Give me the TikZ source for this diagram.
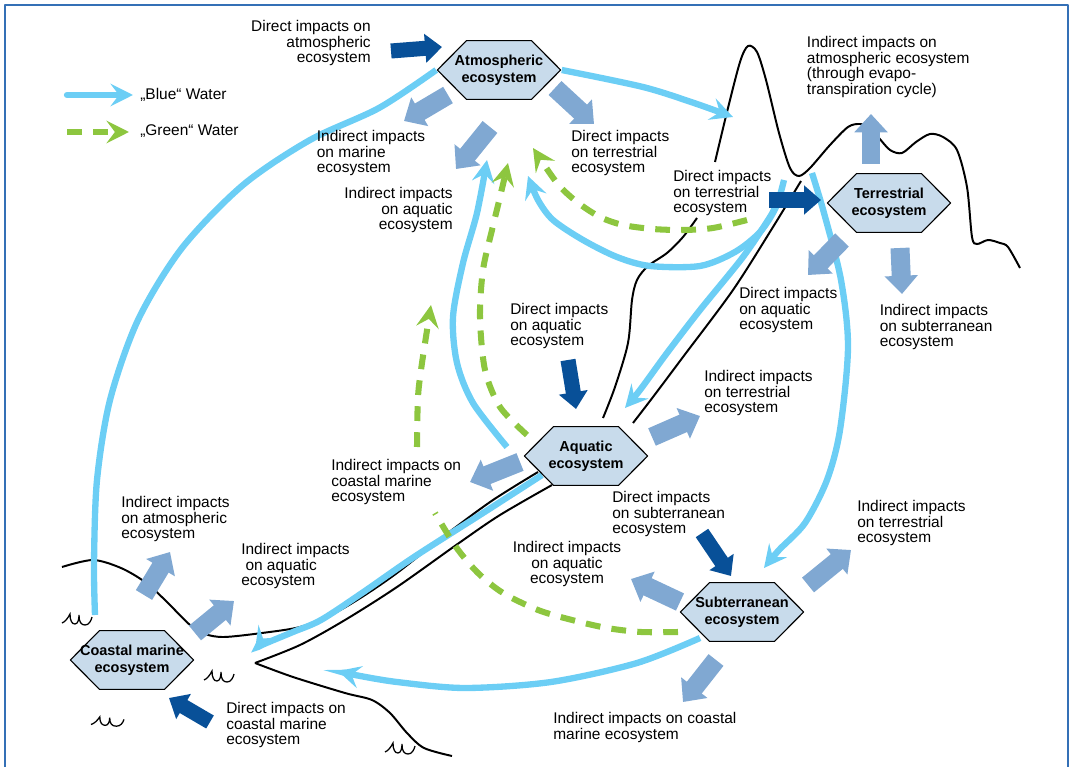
\documentclass[tikz,border=0pt]{standalone}
\usepackage{fontspec}
\setmainfont{Liberation Sans}
\usetikzlibrary{arrows.meta}
\pgfdeclarelayer{bg}
\pgfsetlayers{bg,main}

\definecolor{bluewater}{RGB}{108,206,245}
\definecolor{greenwater}{RGB}{141,198,63}
\definecolor{directblue}{RGB}{8,80,152}
\definecolor{indirectblue}{RGB}{128,168,210}
\definecolor{ecofill}{RGB}{200,219,235}
\definecolor{framecol}{RGB}{52,112,182}

\tikzset{
  pics/ripple/.style={code={
    \draw[line width=0.9pt] (0,10) .. controls (3,9) and (6,5) .. (8,1)
      .. controls (8,8) and (10,11) .. (13,11) .. controls (16,11) and (17,6) .. (17,2)
      .. controls (17,9) and (19,12) .. (23,12) .. controls (27,12) and (29,8) .. (30,4);}}
}

\begin{document}
\begin{tikzpicture}[x=0.025cm, y=-0.025cm, line join=round, line cap=round,
    eco/.style={rectangle, minimum width=3.125cm, minimum height=1.5cm, inner sep=0pt, align=center,
      font=\bfseries\fontsize{10.3}{11.9}\selectfont,
      path picture={\draw[fill=ecofill, line width=0.8pt]
        ([xshift=0.6pt]path picture bounding box.west)
        -- ([xshift=0.75cm, yshift=-0.45pt]path picture bounding box.north west)
        -- ([xshift=-0.75cm, yshift=-0.45pt]path picture bounding box.north east)
        -- ([xshift=-0.6pt]path picture bounding box.east)
        -- ([xshift=-0.75cm, yshift=0.45pt]path picture bounding box.south east)
        -- ([xshift=0.75cm, yshift=0.45pt]path picture bounding box.south west) -- cycle;}},
    lbl/.style={inner sep=0pt, align=left, font=\fontsize{11}{11}\selectfont},
    land/.style={line width=1.4pt},
    bluewaterline/.style={draw=bluewater, line width=4.5pt, -{Stealth[length=16pt, width=16pt, inset=6pt]}},
    greenwaterline/.style={draw=greenwater, line width=4.3pt, line cap=butt, dash pattern=on 10.5pt off 8pt,
      -{Stealth[length=16pt, width=16pt, inset=6pt]}},
    direct/.style={draw=directblue, line width=10.7pt, line cap=butt, -{Triangle[length=12pt, width=20pt]}},
    indirect/.style={draw=indirectblue, line width=13.5pt, line cap=butt, -{Triangle[length=13pt, width=23pt]}}]
  \useasboundingbox (0,0) rectangle (1074,767);
  % Rahmen
  \draw[framecol, line width=1.5pt, line cap=butt] (5,767) -- (5,5) -- (1068,5) -- (1068,767);

  % Oekosysteme
  \node[eco] (atmo) at (499,70) {Atmospheric\\ecosystem};
  \node[eco] (terr) at (889,203) {Terrestrial\\ecosystem};
  \node[eco] (aqua) at (586,456) {Aquatic\\ecosystem};
  \node[eco] (subter) at (742,612) {Subterranean\\ecosystem};
  \node[eco] (coast) at (132,660) {Coastal marine\\ecosystem};

  \coordinate (sea) at (95,615);
  \coordinate (cloud) at (733,117);
  \coordinate (slope) at (784,180);
  \coordinate (slopelow) at (776,205);
  \coordinate (upland) at (812,173);
  \coordinate (vapour) at (528,176);
  \coordinate (lake) at (507,447);
  \coordinate (lakeair) at (487,160);
  \coordinate (outflow) at (542,475);
  \coordinate (mouth) at (255,650);
  \coordinate (spring) at (700,638);
  \coordinate (bay) at (338,671);
  \coordinate (wet) at (747,220);
  \coordinate (wetair) at (533,148);
  \coordinate (marsh) at (527,435);
  \coordinate (marshair) at (508,163);
  \coordinate (shore) at (417,447);
  \coordinate (shoreair) at (431,305);
  \coordinate (soil) at (678,632);
  \coordinate (seep) at (435,513);

  \begin{pgfonlayer}{bg}
    % Landschaft
    \draw[land] plot[smooth] coordinates {(603,418) (615,387) (628,343) (632,300) (637,280) (648,266) (667,253) (683,237) (697,218)};
    \draw[land] plot[smooth] coordinates {(715,162) (727,112) (740,62) (748,46) (757,52) (766,80) (779,133) (790,168) (799,176) (810,168) (830,145) (848,127) (860,124) (870,128) (879,138) (890,150) (902,153) (916,142) (930,134) (943,137) (957,150) (967,187) (972,237) (977,244) (988,240) (1000,243) (1008,247) (1020,268)};
    \draw[land] plot[smooth] coordinates {(801,181) (773,227) (733,290) (683,357) (653,397) (633,423)};
    \draw[land] plot[smooth] coordinates {(62,567) (93,560) (121,568) (145,582) (165,600) (190,625) (205,634) (224,637) (262,633) (300,627) (331,615) (362,597) (397,573) (448,533) (493,500) (538,472)};
    \draw[land] plot[smooth] coordinates {(552,485) (500,515) (459,543) (397,587) (345,620) (300,645) (255,663)};
    \draw[land] plot[smooth] coordinates {(255,663) (293,677) (345,693) (372,700) (390,713) (407,733) (424,748) (452,756)};
    \pic at (62,613) {ripple};
    \pic at (204,670) {ripple};
    \pic[xscale=1.1, yscale=0.85] at (91,716) {ripple};
    \pic at (385,742) {ripple};

    % Blaues Wasser
    \draw[bluewaterline, -] plot[smooth] coordinates {(sea) (94,563) (97,480) (110,400) (138,320) (182,248) (243,185) (310,140) (379,108) (atmo.west)};
    \draw[bluewaterline] plot[smooth] coordinates {(atmo.east) (643,87) (694,103) (cloud)};
    \draw[bluewaterline] plot[smooth] coordinates {(slope) (776,207) (760,232) (735,252) (700,266) (650,266) (617,257) (583,240) (553,220) (538,200) (vapour)};
    \draw[bluewaterline] plot[smooth] coordinates {(slopelow) (770,217) (743,257) (700,310) (667,353) (640,390) (625,408)};
    \draw[bluewaterline] plot[smooth] coordinates {(upland) (824,213) (841,280) (848,347) (840,430) (827,480) (805,523) (779,550) (764,568)};
    \draw[bluewaterline] plot[smooth] coordinates {(lake) (473,403) (457,363) (453,317) (463,263) (477,213) (lakeair)};
    \draw[bluewaterline] plot[smooth] coordinates {(outflow) (483,513) (414,557) (362,593) (321,620) (293,632) (262,645) (mouth)};
    \draw[bluewaterline] plot[smooth] coordinates {(spring) (637,663) (551,682) (465,688) (397,682) (355,675) (bay)};

    % Gruenes Wasser
    \draw[greenwaterline] plot[smooth] coordinates {(wet) (713,228) (683,230) (653,229) (623,225) (600,217) (577,202) (557,183) (wetair)};
    \draw[greenwaterline] plot[smooth] coordinates {(marsh) (500,407) (485,370) (480,317) (483,270) (492,230) (500,197) (marshair)};
    \draw[greenwaterline] plot[smooth] coordinates {(shore) (418,397) (422,363) (shoreair)};
    \draw[greenwaterline, -] plot[smooth] coordinates {(soil) (641,632) (607,628) (572,620) (538,610) (503,593) (478,573) (456,547) (seep)};
  \end{pgfonlayer}

  % Legende
  \draw[bluewaterline] (67,95) -- (133,95);
  \node[lbl, anchor=west] (legblue) at (140,95) {„Blue“ Water};
  \draw[greenwaterline] (67,132) -- (129,132);
  \node[lbl, anchor=west] (leggreen) at (140,131) {„Green“ Water};

  % direkte Einfluesse
  \draw[direct] (391,51) -- (442,47);
  \draw[direct] (769,200) -- (821,200);
  \draw[direct] (568,360) -- (576,409);
  \draw[direct] (702,533) -- (731,576);
  \draw[direct] (210,722) -- (169,698);

  % indirekte Einfluesse
  \draw[indirect] (448,95) -- (404,121);
  \draw[indirect] (490,127) -- (456,169);
  \draw[indirect] (555,88) -- (594,124);
  \draw[indirect] (871,164) -- (871,114);
  \draw[indirect] (842,240) -- (808,275);
  \draw[indirect] (900,248) -- (902,294);
  \draw[indirect] (652,437) -- (700,416);
  \draw[indirect] (520,462) -- (470,482);
  \draw[indirect] (680,602) -- (631,579);
  \draw[indirect] (808,585) -- (851,550);
  \draw[indirect] (716,660) -- (683,702);
  \draw[indirect] (144,595) -- (170,552);
  \draw[indirect] (195,633) -- (234,601);

  % Beschriftung
  \node[lbl, anchor=north east, align=right] (t1) at (371,20.5) {Direct impacts on\\atmospheric\\ecosystem};
  \node[lbl, anchor=north west] (t2) at (316.6,130.5) {Indirect impacts\\on marine\\ecosystem};
  \node[lbl, anchor=north east, align=right] (t3) at (453,187.5) {Indirect impacts\\on aquatic\\ecosystem};
  \node[lbl, anchor=north west] (t4) at (571,130.5) {Direct impacts\\on terrestrial\\ecosystem};
  \node[lbl, anchor=north west] (t5) at (806.7,36.5) {Indirect impacts on\\atmospheric ecosystem\\(through evapo-\\transpiration cycle)};
  \node[lbl, anchor=north west] (t6) at (673,170.5) {Direct impacts\\on terrestrial\\ecosystem};
  \node[lbl, anchor=north west] (t7) at (739,287.5) {Direct impacts\\on aquatic\\ecosystem};
  \node[lbl, anchor=north west] (t8) at (879.5,304.5) {Indirect impacts\\on subterranean\\ecosystem};
  \node[lbl, anchor=north west] (t9) at (510,303.5) {Direct impacts\\on aquatic\\ecosystem};
  \node[lbl, anchor=north west] (t10) at (704,370.5) {Indirect impacts\\on terrestrial\\ecosystem};
  \node[lbl, anchor=north west] (t11) at (331,459.5) {Indirect impacts on\\coastal marine\\ecosystem};
  \node[lbl, anchor=north west] (t12) at (612,491.5) {Direct impacts\\on subterranean\\ecosystem};
  \node[lbl, anchor=north, align=center] (t13) at (567,541.5) {Indirect impacts\\on aquatic\\ecosystem};
  \node[lbl, anchor=north west] (t14) at (857,500.5) {Indirect impacts\\on terrestrial\\ecosystem};
  \node[lbl, anchor=north west] (t15) at (553,712.5) {Indirect impacts on coastal\\marine ecosystem};
  \node[lbl, anchor=north west] (t16) at (226,702.5) {Direct impacts on\\coastal marine\\ecosystem};
  \node[lbl, anchor=north west] (t17) at (121,496.5) {Indirect impacts\\on atmospheric\\ecosystem};
  \node[lbl, anchor=north west] (t18) at (241,543.5) {Indirect impacts\\\hspace*{3pt}on aquatic\\ecosystem};
\end{tikzpicture}
\end{document}
